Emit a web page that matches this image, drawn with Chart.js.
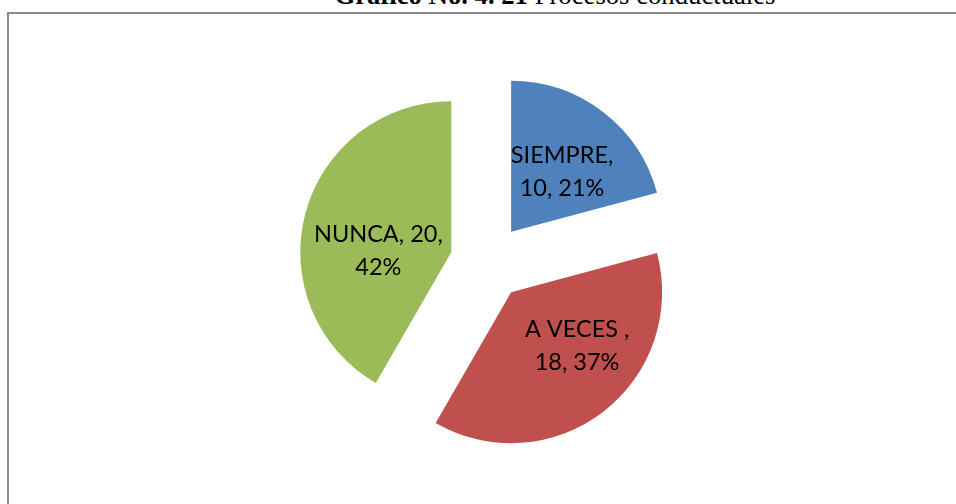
<!DOCTYPE html>
<html>
<head>
<meta charset="utf-8">
<script src="https://cdn.jsdelivr.net/npm/chart.js@4.4.0/dist/chart.umd.min.js"></script>
<style>
  html, body { margin: 0; padding: 0; background: #fff; overflow: hidden; }
  #wrap { position: relative; width: 956px; height: 504px; }
  #frame { position: absolute; left: 7px; top: 12px; width: 1000px; height: 600px; border-left: 2px solid #8c8c8c; border-top: 2px solid #8c8c8c; }
  #title { position: absolute; left: 0; top: -18px; width: 1110px; text-align: center; font-family: 'Liberation Serif', serif; font-size: 26.7px; line-height: 26.7px; color: #000; white-space: nowrap; }
  #chart { position: absolute; left: 0; top: 0; }
</style>
</head>
<body>
<div id="wrap">
  <div id="title"><b>Gráfico No. 4. 21</b> Procesos conductuales</div>
  <div id="frame"></div>
  <canvas id="chart" width="956" height="504"></canvas>
</div>
<script>
// datos del gráfico
const categories = ['SIEMPRE', 'A VECES ', 'NUNCA'];
const values = [10, 18, 20];
const percents = ['21%', '37%', '42%'];
const sliceColors = ['#4F81BD', '#C0504D', '#9BBB59'];

// separación de cada porción (px) y ajuste fino de las etiquetas
const explode = 38;
const labelNudge = [[5, 0], [20, -6], [0, 18]];

// dibuja cada porción desplazada hacia afuera (offset de Chart.js deforma el arco)
const explodeSlices = {
  id: 'explodeSlices',
  beforeDatasetDraw(chart, args) {
    const ctx = chart.ctx;
    args.meta.data.forEach(arc => {
      const mid = (arc.startAngle + arc.endAngle) / 2;
      ctx.save();
      ctx.translate(Math.cos(mid) * explode, Math.sin(mid) * explode);
      arc.draw(ctx);
      ctx.restore();
    });
    return false;
  }
};

// etiquetas dentro de cada porción
const pieLabels = {
  id: 'pieLabels',
  afterDatasetsDraw(chart) {
    const ctx = chart.ctx;
    const meta = chart.getDatasetMeta(0);
    ctx.save();
    ctx.font = '23.5px Lato';
    ctx.fillStyle = '#000';
    ctx.textAlign = 'center';
    ctx.textBaseline = 'middle';
    meta.data.forEach((arc, i) => {
      const mid = (arc.startAngle + arc.endAngle) / 2;
      const dist = explode + arc.outerRadius * 0.5;
      const x = arc.x + Math.cos(mid) * dist + labelNudge[i][0];
      const y = arc.y + Math.sin(mid) * dist + labelNudge[i][1];
      const words = (categories[i] + ', ' + values[i] + ', ' + percents[i]).split(' ');
      const lines = [];
      let line = '';
      words.forEach(w => {
        const test = line ? line + ' ' + w : w;
        if (line && ctx.measureText(test).width > 131) {
          lines.push(line);
          line = w;
        } else {
          line = test;
        }
      });
      lines.push(line);
      const lh = 33;
      lines.forEach((l, k) => {
        ctx.fillText(l.trim(), x, y + (k - (lines.length - 1) / 2) * lh);
      });
    });
    ctx.restore();
  }
};

new Chart(document.getElementById('chart'), {
  type: 'pie',
  data: {
    labels: categories,
    datasets: [{
      data: values,
      backgroundColor: sliceColors,
      borderWidth: 0,
    }],
  },
  options: {
    responsive: false,
    animation: false,
    radius: 151,
    layout: { padding: { left: 20, right: 0, top: 20, bottom: 0 } },
    plugins: {
      legend: { display: false },
      tooltip: { enabled: false },
      title: { display: false },
    },
  },
  plugins: [explodeSlices, pieLabels],
});
</script>
</body>
</html>
